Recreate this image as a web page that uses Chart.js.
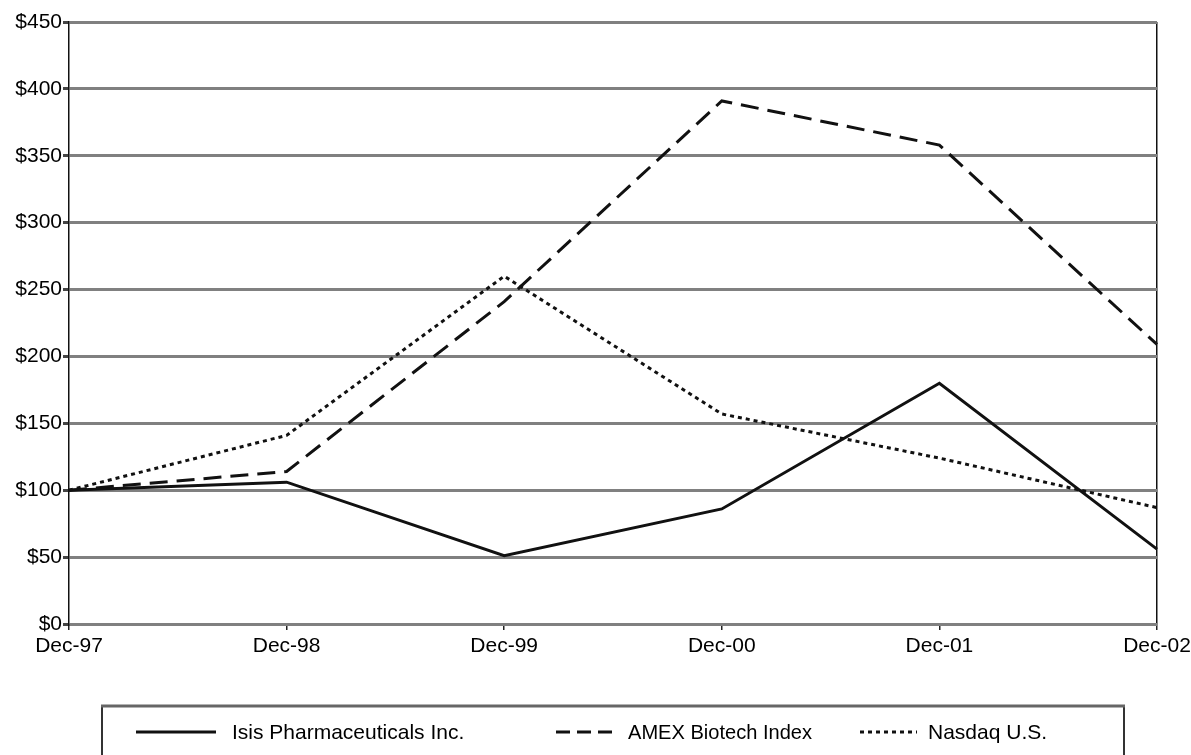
<!DOCTYPE html>
<html>
<head>
<meta charset="utf-8">
<script src="https://cdn.jsdelivr.net/npm/chart.js@4.4.0/dist/chart.umd.min.js"></script>
<style>
  body { margin: 0; background: #fff; }
  #wrap { width: 1191px; height: 755px; position: relative; }
</style>
</head>
<body>
<div id="wrap"><canvas id="myChart"></canvas></div>
<script>
// values
var labels = ['Dec-97', 'Dec-98', 'Dec-99', 'Dec-00', 'Dec-01', 'Dec-02']
var isis = [100, 106, 51, 86, 180, 56]
var amex = [100, 114, 241, 391, 358, 209]
var nasdaq = [100, 141, 260, 157, 124, 87]
var seriesNames = ['Isis Pharmaceuticals Inc.', 'AMEX Biotech Index', 'Nasdaq U.S.']
var yMin = 0, yMax = 450, yStep = 50

var FONT = '"Liberation Sans", Arial, Helvetica, sans-serif'

// legend drawn in a box under the chart, like the original
var boxLegend = {
    id: 'boxLegend',
    afterDraw(chart) {
        var c = chart.ctx
        c.save()
        c.strokeStyle = '#333'
        c.lineWidth = 2
        c.strokeRect(102, 706, 1022, 70)
        c.strokeStyle = '#666'
        c.lineWidth = 3
        c.beginPath()
        c.moveTo(101, 706)
        c.lineTo(1125, 706)
        c.stroke()

        var items = [
            { x1: 136, x2: 216, tx: 232, w: 238 },
            { x1: 556, x2: 613, tx: 628, w: 184 },
            { x1: 860, x2: 917, tx: 928, w: 150 }
        ]
        c.font = '21px ' + FONT
        c.textBaseline = 'middle'
        c.fillStyle = '#000'
        chart.data.datasets.forEach(function(ds, i) {
            var it = items[i]
            c.beginPath()
            c.strokeStyle = ds.borderColor
            c.lineWidth = 3
            c.setLineDash(i == 1 ? [14, 7] : (ds.borderDash || []))
            c.moveTo(it.x1, 732)
            c.lineTo(it.x2, 732)
            c.stroke()
            c.setLineDash([])
            c.fillText(ds.label, it.tx, 733, it.w)
        })
        c.restore()
    }
}

var ctx = document.getElementById('myChart').getContext('2d')
var chart1 = new Chart(ctx, {
    type: 'line',
    plugins: [boxLegend],
    data: {
        labels: labels,
        datasets: [{
            label: seriesNames[0],
            data: isis,
            borderColor: '#111',
            borderWidth: 3,
            borderDash: []
        }, {
            label: seriesNames[1],
            data: amex,
            borderColor: '#111',
            borderWidth: 3,
            borderDash: [18, 9]
        }, {
            label: seriesNames[2],
            data: nasdaq,
            borderColor: '#111',
            borderWidth: 3,
            borderDash: [4, 4]
        }]
    },
    options: {
        responsive: true,
        maintainAspectRatio: false,
        animation: false,
        elements: {
            point: { radius: 0 },
            line: { tension: 0, fill: false }
        },
        layout: {
            padding: { left: 0, right: 34, top: 22, bottom: 95 }
        },
        plugins: {
            legend: { display: false },
            tooltip: { enabled: false }
        },
        scales: {
            x: {
                offset: false,
                grid: {
                    drawOnChartArea: true,
                    color: function(c) {
                        return c.index === labels.length - 1 ? '#111' : 'rgba(0,0,0,0)'
                    },
                    tickColor: '#222',
                    tickLength: 6,
                    lineWidth: 1.5
                },
                border: { display: false },
                ticks: {
                    color: '#000',
                    padding: 4,
                    maxRotation: 0,
                    font: { family: FONT, size: 21 }
                },
                afterFit: function(s) {
                    s.height = 36
                    s.paddingLeft = 0
                    s.paddingRight = 0
                }
            },
            y: {
                min: yMin,
                max: yMax,
                grid: {
                    color: '#808080',
                    lineWidth: 3,
                    tickColor: '#444',
                    tickLength: 6
                },
                border: { display: true, color: '#111', width: 1.5 },
                ticks: {
                    stepSize: yStep,
                    color: '#000',
                    padding: 1,
                    font: { family: FONT, size: 21 },
                    callback: function(v) { return '$' + v }
                },
                afterFit: function(s) { s.width = 69 }
            }
        }
    }
})
</script>
</body>
</html>
